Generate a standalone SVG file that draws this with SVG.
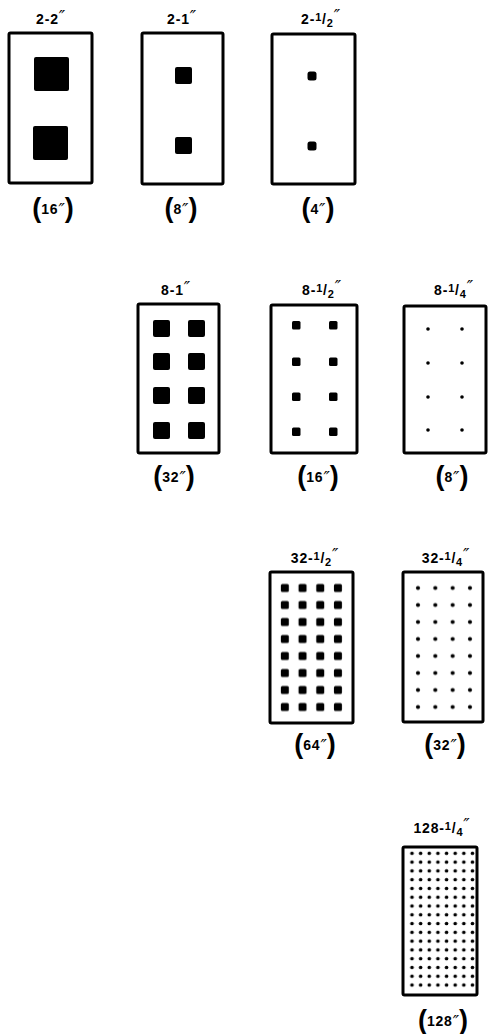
<svg xmlns="http://www.w3.org/2000/svg" width="488" height="1034" viewBox="0 0 488 1034">
<style>
.box{fill:#fff;stroke:#000;stroke-width:3}
.blk{fill:#000}
text{font-family:"Liberation Sans","DejaVu Sans",sans-serif;font-weight:bold;fill:#000;text-anchor:middle}
.t{font-size:14px;letter-spacing:0.8px}
.fs{font-size:11px}
.pr{font-family:"DejaVu Sans",sans-serif;font-size:17px;font-weight:normal;font-style:italic}
.pa{font-size:27px}
.pd{font-size:14px;letter-spacing:0.8px}
</style>
<defs>
<pattern id="g7" patternUnits="userSpaceOnUse" x="276" y="579.5" width="17.7" height="17">
<rect x="4.85" y="4.5" width="8" height="8" rx="1.5" fill="#000"/>
</pattern>
<pattern id="g8" patternUnits="userSpaceOnUse" x="409.33" y="579.5" width="17.33" height="17">
<circle cx="8.67" cy="8.5" r="2" fill="#000"/>
</pattern>
<pattern id="g9" patternUnits="userSpaceOnUse" x="407.68" y="848.9" width="8.64" height="8.78">
<circle cx="4.32" cy="4.39" r="1.8" fill="#000"/>
</pattern>
</defs>
<rect width="488" height="1034" fill="#fff"/>
<g id="connectors"/>

<g id="n-2-2">
<text class="t" x="51" y="24">2-2<tspan class="pr" dy="-1">″</tspan></text>
<rect class="box" x="9" y="33" width="83" height="150" rx="1.5"/>
<rect class="blk" x="34" y="57" width="35" height="34" rx="2"/>
<rect class="blk" x="33" y="126" width="35" height="34" rx="2"/>
<text x="53" y="217"><tspan class="pa">(</tspan><tspan class="pd" dy="-3">16</tspan><tspan class="pr" dy="2">″</tspan><tspan class="pa" dy="1">)</tspan></text>
</g>

<g id="n-2-1">
<text class="t" x="182" y="24">2-1<tspan class="pr" dy="-1">″</tspan></text>
<rect class="box" x="142" y="33" width="81" height="151" rx="1.5"/>
<rect class="blk" x="175" y="67" width="17" height="17" rx="2"/>
<rect class="blk" x="175" y="137" width="17" height="17" rx="2"/>
<text x="181" y="217"><tspan class="pa">(</tspan><tspan class="pd" dy="-3">8</tspan><tspan class="pr" dy="2">″</tspan><tspan class="pa" dy="1">)</tspan></text>
</g>

<g id="n-2-half">
<text class="t" x="321" y="24">2-<tspan class="fs" dy="-3">1</tspan><tspan dy="3">/</tspan><tspan class="fs" dy="3">2</tspan><tspan class="pr" dy="-5">″</tspan></text>
<rect class="box" x="272" y="34" width="83" height="150" rx="1.5"/>
<rect class="blk" x="307.5" y="71.5" width="9" height="9" rx="2.5"/>
<rect class="blk" x="307.5" y="141.5" width="9" height="9" rx="2.5"/>
<text x="318" y="217"><tspan class="pa">(</tspan><tspan class="pd" dy="-3">4</tspan><tspan class="pr" dy="2">″</tspan><tspan class="pa" dy="1">)</tspan></text>
</g>

<g id="n-8-1">
<text class="t" x="176" y="295">8-1<tspan class="pr" dy="-1">″</tspan></text>
<rect class="box" x="138" y="304" width="81" height="149" rx="1.5"/>
<rect class="blk" x="153" y="320" width="17" height="17" rx="2"/>
<rect class="blk" x="188" y="320" width="17" height="17" rx="2"/>
<rect class="blk" x="153" y="353" width="17" height="17" rx="2"/>
<rect class="blk" x="188" y="353" width="17" height="17" rx="2"/>
<rect class="blk" x="153" y="387" width="17" height="17" rx="2"/>
<rect class="blk" x="188" y="387" width="17" height="17" rx="2"/>
<rect class="blk" x="153" y="422" width="17" height="17" rx="2"/>
<rect class="blk" x="188" y="422" width="17" height="17" rx="2"/>
<text x="174" y="485"><tspan class="pa">(</tspan><tspan class="pd" dy="-3">32</tspan><tspan class="pr" dy="2">″</tspan><tspan class="pa" dy="1">)</tspan></text>
</g>

<g id="n-8-half">
<text class="t" x="322" y="295">8-<tspan class="fs" dy="-3">1</tspan><tspan dy="3">/</tspan><tspan class="fs" dy="3">2</tspan><tspan class="pr" dy="-5">″</tspan></text>
<rect class="box" x="271" y="305" width="86" height="148" rx="1.5"/>
<rect class="blk" x="292" y="321" width="8.5" height="8.5" rx="1.5"/>
<rect class="blk" x="329" y="321" width="8.5" height="8.5" rx="1.5"/>
<rect class="blk" x="292" y="357.5" width="8.5" height="8.5" rx="1.5"/>
<rect class="blk" x="329" y="357.5" width="8.5" height="8.5" rx="1.5"/>
<rect class="blk" x="292" y="392.5" width="8.5" height="8.5" rx="1.5"/>
<rect class="blk" x="329" y="392.5" width="8.5" height="8.5" rx="1.5"/>
<rect class="blk" x="292" y="427.5" width="8.5" height="8.5" rx="1.5"/>
<rect class="blk" x="329" y="427.5" width="8.5" height="8.5" rx="1.5"/>
<text x="318" y="485"><tspan class="pa">(</tspan><tspan class="pd" dy="-3">16</tspan><tspan class="pr" dy="2">″</tspan><tspan class="pa" dy="1">)</tspan></text>
</g>

<g id="n-8-quarter">
<text class="t" x="454" y="295">8-<tspan class="fs" dy="-3">1</tspan><tspan dy="3">/</tspan><tspan class="fs" dy="3">4</tspan><tspan class="pr" dy="-5">″</tspan></text>
<rect class="box" x="404" y="306" width="82" height="147" rx="1.5"/>
<circle class="blk" cx="428" cy="329" r="1.8"/>
<circle class="blk" cx="462" cy="329" r="1.8"/>
<circle class="blk" cx="428" cy="363" r="1.8"/>
<circle class="blk" cx="462" cy="363" r="1.8"/>
<circle class="blk" cx="428" cy="397" r="1.8"/>
<circle class="blk" cx="462" cy="397" r="1.8"/>
<circle class="blk" cx="428" cy="430" r="1.8"/>
<circle class="blk" cx="462" cy="430" r="1.8"/>
<text x="452" y="485"><tspan class="pa">(</tspan><tspan class="pd" dy="-3">8</tspan><tspan class="pr" dy="2">″</tspan><tspan class="pa" dy="1">)</tspan></text>
</g>

<g id="n-32-half">
<text class="t" x="315" y="563">32-<tspan class="fs" dy="-3">1</tspan><tspan dy="3">/</tspan><tspan class="fs" dy="3">2</tspan><tspan class="pr" dy="-5">″</tspan></text>
<rect class="box" x="270" y="572" width="83" height="151" rx="1.5"/>
<rect x="276" y="579.5" width="70.8" height="136" fill="url(#g7)"/>
<text x="315" y="753"><tspan class="pa">(</tspan><tspan class="pd" dy="-3">64</tspan><tspan class="pr" dy="2">″</tspan><tspan class="pa" dy="1">)</tspan></text>
</g>

<g id="n-32-quarter">
<text class="t" x="446" y="563">32-<tspan class="fs" dy="-3">1</tspan><tspan dy="3">/</tspan><tspan class="fs" dy="3">4</tspan><tspan class="pr" dy="-5">″</tspan></text>
<rect class="box" x="403" y="572" width="80" height="150" rx="1.5"/>
<rect x="409.33" y="579.5" width="69.3" height="136" fill="url(#g8)"/>
<text x="445" y="753"><tspan class="pa">(</tspan><tspan class="pd" dy="-3">32</tspan><tspan class="pr" dy="2">″</tspan><tspan class="pa" dy="1">)</tspan></text>
</g>

<g id="n-128-quarter">
<text class="t" x="442" y="833">128-<tspan class="fs" dy="-3">1</tspan><tspan dy="3">/</tspan><tspan class="fs" dy="3">4</tspan><tspan class="pr" dy="-5">″</tspan></text>
<rect class="box" x="403" y="847" width="74" height="148" rx="1.5"/>
<rect x="407.68" y="848.9" width="69.1" height="140.5" fill="url(#g9)"/>
<text x="443" y="1029"><tspan class="pa">(</tspan><tspan class="pd" dy="-3">128</tspan><tspan class="pr" dy="2">″</tspan><tspan class="pa" dy="1">)</tspan></text>
</g>
</svg>
